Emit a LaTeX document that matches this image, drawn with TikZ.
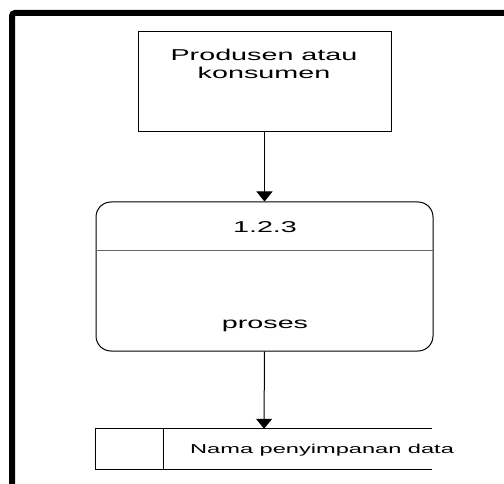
\documentclass[tikz,border=0pt]{standalone}
\usepackage{fontspec}
\newfontfamily\dfdfont[FakeStretch=1.83]{Liberation Sans}
\usetikzlibrary{arrows.meta}
\begin{document}
\begin{tikzpicture}[x=1pt,y=1pt,
  lbl/.style={font=\dfdfont\fontsize{15.7}{17.4}\selectfont, inner sep=0pt, anchor=base, align=center},
  storelbl/.style={font=\dfdfont\fontsize{12.9}{15}\selectfont, inner sep=0pt, anchor=base west},
  flow/.style={line width=1pt, -{Triangle[width=16pt,length=10pt]}},
  boxline/.style={draw, line width=1pt}]
\useasboundingbox (0,0) rectangle (504,-484);
% outer frame
\draw[line width=6pt, rounded corners=3pt] (12,-490) -- (12,-13) -- (510,-13);
% external entity
\node[boxline, minimum width=253pt, minimum height=100pt, inner sep=0pt] (ent) at (264.5,-82) {};
\node[lbl] (enttxt) at (264,-78.3) {Produsen atau\\konsumen};
% process
\node[boxline, rounded corners=15pt, minimum width=337pt, minimum height=149pt, inner sep=0pt] (proc) at (264.5,-276.5) {};
\coordinate (divl) at (96,-251);
\coordinate (divr) at (433,-251);
\draw[line width=1pt, draw=black!60] (divl) -- (divr);
\node[lbl] (pid) at (265,-232.7) {1.2.3};
\node[lbl] (pname) at (265,-328.3) {proses};
% data store
\node[inner sep=0pt, minimum width=336pt, minimum height=40pt] (store) at (264,-449) {};
\coordinate (sdiv) at (163,-449);
\draw[line width=1pt] (store.north east) -- (store.north west) -- (store.south west) -- (store.south east);
\draw[line width=1pt] (sdiv |- store.north) -- (sdiv |- store.south);
\node[storelbl] (stxt) at (190,-453.3) {Nama penyimpanan data};
% flows
\draw[flow] (ent.south) -- (proc.north);
\draw[flow] (proc.south) -- (store.north);
\end{tikzpicture}
\end{document}
